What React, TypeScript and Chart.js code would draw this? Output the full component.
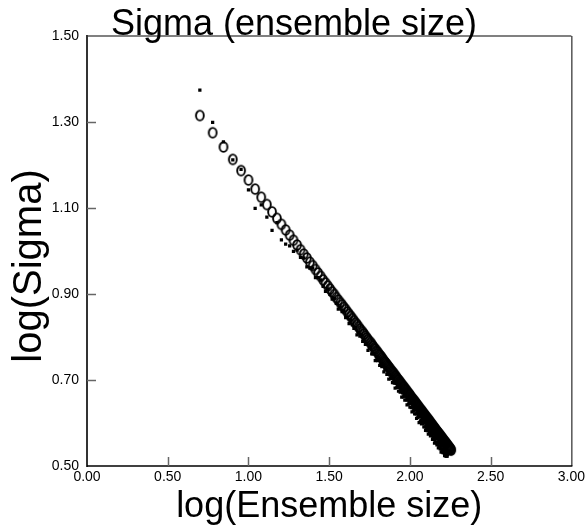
import React, { useEffect, useRef } from "react";
import { Chart, registerables } from "chart.js";

Chart.register(...registerables);

const chartTitle = "Sigma (ensemble size)";
const xAxisTitle = "log(Ensemble size)";
const yAxisTitle = "log(Sigma)";

// log10 positions of axis ticks
const xTickLogs = [0, 0.5, 1, 1.5, 2, 2.5, 3];
const yTicks = [0.5, 0.7, 0.9, 1.1, 1.3, 1.5];

const ensembleSizes = [
  5, 6, 7, 8, 9, 10, 11, 12, 13, 14, 15, 16, 17, 18, 19, 20, 21, 22, 23, 24, 25, 26, 27, 28, 29, 30,
  31, 32, 33, 34, 35, 36, 37, 38, 39, 40, 41, 42, 43, 44, 45, 46, 47, 48, 49, 50, 51, 52, 53, 54, 55,
  56, 57, 58, 59, 60, 61, 62, 63, 64, 65, 66, 67, 68, 69, 70, 71, 72, 73, 74, 75, 76, 77, 78, 79, 80,
  81, 82, 83, 84, 85, 86, 87, 88, 89, 90, 91, 92, 93, 94, 95, 96, 97, 98, 99, 100, 101, 102, 103, 104,
  105, 106, 107, 108, 109, 110, 111, 112, 113, 114, 115, 116, 117, 118, 119, 120, 121, 122, 123, 124,
  125, 126, 127, 128, 129, 130, 131, 132, 133, 134, 135, 136, 137, 138, 139, 140, 141, 142, 143, 144,
  145, 146, 147, 148, 149, 150, 151, 152, 153, 154, 155, 156, 157, 158, 159, 160, 161, 162, 163, 164,
  165, 166, 167, 168, 169, 170, 171, 172, 173, 174, 175, 176, 177, 178, 179, 180,
];

const logSigmaCircles = [
  1.315, 1.275, 1.242, 1.213, 1.187, 1.165, 1.144, 1.125, 1.108, 1.091, 1.076, 1.062, 1.049, 1.037,
  1.025, 1.014, 1.003, 0.993, 0.984, 0.974, 0.966, 0.957, 0.949, 0.941, 0.933, 0.926, 0.919, 0.912,
  0.905, 0.899, 0.892, 0.886, 0.88, 0.875, 0.869, 0.864, 0.858, 0.853, 0.848, 0.843, 0.838, 0.833,
  0.829, 0.824, 0.819, 0.815, 0.811, 0.807, 0.802, 0.798, 0.794, 0.79, 0.787, 0.783, 0.779, 0.775,
  0.772, 0.768, 0.765, 0.761, 0.758, 0.755, 0.752, 0.748, 0.745, 0.742, 0.739, 0.736, 0.733, 0.73,
  0.727, 0.724, 0.721, 0.719, 0.716, 0.713, 0.71, 0.708, 0.705, 0.702, 0.7, 0.697, 0.695, 0.692,
  0.69, 0.687, 0.685, 0.683, 0.68, 0.678, 0.676, 0.673, 0.671, 0.669, 0.667, 0.665, 0.662, 0.66,
  0.658, 0.656, 0.654, 0.652, 0.65, 0.648, 0.646, 0.644, 0.642, 0.64, 0.638, 0.636, 0.634, 0.632,
  0.63, 0.629, 0.627, 0.625, 0.623, 0.621, 0.62, 0.618, 0.616, 0.614, 0.613, 0.611, 0.609, 0.608,
  0.606, 0.604, 0.603, 0.601, 0.599, 0.598, 0.596, 0.595, 0.593, 0.591, 0.59, 0.588, 0.587, 0.585,
  0.584, 0.582, 0.581, 0.579, 0.578, 0.576, 0.575, 0.574, 0.572, 0.571, 0.569, 0.568, 0.567, 0.565,
  0.564, 0.563, 0.561, 0.56, 0.558, 0.557, 0.556, 0.555, 0.553, 0.552, 0.551, 0.549, 0.548, 0.547,
  0.546, 0.544, 0.543, 0.542, 0.541, 0.539, 0.538, 0.537,
];

const logSigmaSquares = [
  1.374, 1.299, 1.254, 1.212, 1.19, 1.142, 1.099, 1.107, 1.079, 1.048, 1.066, 1.026, 1.016, 1.012,
  0.999, 1.002, 0.985, 0.984, 0.963, 0.96, 0.96, 0.938, 0.938, 0.933, 0.918, 0.906, 0.912, 0.899,
  0.888, 0.89, 0.878, 0.865, 0.87, 0.859, 0.861, 0.845, 0.846, 0.831, 0.839, 0.828, 0.82, 0.822,
  0.805, 0.811, 0.802, 0.805, 0.79, 0.793, 0.783, 0.786, 0.769, 0.774, 0.776, 0.761, 0.761, 0.762,
  0.745, 0.753, 0.745, 0.749, 0.734, 0.738, 0.731, 0.734, 0.719, 0.724, 0.727, 0.713, 0.714, 0.702,
  0.712, 0.703, 0.704, 0.694, 0.703, 0.693, 0.681, 0.692, 0.683, 0.684, 0.674, 0.683, 0.672, 0.673,
  0.66, 0.67, 0.661, 0.663, 0.653, 0.663, 0.654, 0.642, 0.653, 0.644, 0.646, 0.637, 0.646, 0.636,
  0.626, 0.637, 0.628, 0.63, 0.621, 0.631, 0.621, 0.611, 0.622, 0.613, 0.615, 0.601, 0.615, 0.604,
  0.606, 0.598, 0.609, 0.599, 0.601, 0.591, 0.6, 0.591, 0.583, 0.593, 0.588, 0.582, 0.59, 0.574,
  0.583, 0.576, 0.582, 0.57, 0.575, 0.571, 0.576, 0.562, 0.568, 0.562, 0.568, 0.553, 0.561, 0.555,
  0.563, 0.554, 0.549, 0.555, 0.551, 0.542, 0.553, 0.545, 0.547, 0.54, 0.546, 0.532, 0.54, 0.535,
  0.54, 0.531, 0.535, 0.531, 0.536, 0.524, 0.529, 0.53, 0.523, 0.529, 0.523, 0.523, 0.527, 0.53,
  0.532, 0.53, 0.533, 0.531, 0.534, 0.531, 0.533, 0.53,
];

const FONT = '"Liberation Sans", Arial, Helvetica, sans-serif';

function makeOMarker(): HTMLCanvasElement {
  const c = document.createElement("canvas");
  c.width = 12;
  c.height = 14;
  const g = c.getContext("2d")!;
  g.strokeStyle = "#000";
  g.lineWidth = 1.9;
  g.beginPath();
  g.ellipse(6, 7, 3.9, 4.9, 0, 0, Math.PI * 2);
  g.stroke();
  return c;
}

const framePlugin = {
  id: "frame",
  afterDatasetsDraw(chart: any) {
    const { ctx, chartArea } = chart;
    const { left, right, top, bottom } = chartArea;
    const xs = chart.scales.x;
    const ys = chart.scales.y;
    ctx.save();
    ctx.strokeStyle = "#808080";
    ctx.lineWidth = 2;
    ctx.beginPath();
    ctx.moveTo(left, top);
    ctx.lineTo(right, top);
    ctx.stroke();
    ctx.strokeStyle = "#000";
    ctx.lineWidth = 1;
    ctx.beginPath();
    ctx.moveTo(right + 0.5, top);
    ctx.lineTo(right + 0.5, bottom);
    ctx.stroke();
    ctx.strokeStyle = "#333";
    ctx.lineWidth = 2;
    ctx.beginPath();
    ctx.moveTo(left, top - 1);
    ctx.lineTo(left, bottom + 1);
    ctx.stroke();
    ctx.strokeStyle = "#000";
    ctx.lineWidth = 1.5;
    ctx.beginPath();
    ctx.moveTo(left, bottom);
    ctx.lineTo(right + 1, bottom);
    ctx.stroke();
    ctx.strokeStyle = "#666";
    ctx.lineWidth = 1.5;
    for (const v of yTicks.slice(1, -1)) {
      const py = Math.round(ys.getPixelForValue(v)) + 0.5;
      ctx.beginPath();
      ctx.moveTo(left, py);
      ctx.lineTo(left + 9, py);
      ctx.stroke();
    }
    for (const lv of xTickLogs.slice(1, -1)) {
      const px = Math.round(xs.getPixelForValue(Math.pow(10, lv))) + 0.5;
      ctx.beginPath();
      ctx.moveTo(px, bottom);
      ctx.lineTo(px, bottom - 9);
      ctx.stroke();
    }
    ctx.restore();
  },
  afterDraw(chart: any) {
    const { ctx, chartArea, width } = chart;
    ctx.save();
    ctx.fillStyle = "#000";
    ctx.textAlign = "center";
    ctx.textBaseline = "alphabetic";
    ctx.font = `36px ${FONT}`;
    ctx.fillText(chartTitle, width / 2, 35);
    ctx.fillText(xAxisTitle, (chartArea.left + chartArea.right) / 2, 517);
    ctx.translate(41, 266);
    ctx.rotate(-Math.PI / 2);
    ctx.font = `40px ${FONT}`;
    ctx.fillText(yAxisTitle, 0, 0);
    ctx.restore();
  },
};

export default function App() {
  const canvasRef = useRef<HTMLCanvasElement | null>(null);

  useEffect(() => {
    const canvas = canvasRef.current;
    if (!canvas) return;
    const oMarker = makeOMarker();
    const circlePts = ensembleSizes.map((n, i) => ({ x: n, y: logSigmaCircles[i] }));
    const squarePts = ensembleSizes.map((n, i) => ({ x: n, y: logSigmaSquares[i] }));

    const chart = new Chart(canvas, {
      type: "scatter",
      data: {
        datasets: [
          {
            label: "squares",
            data: squarePts,
            pointStyle: "rect",
            pointRadius: 2.3,
            backgroundColor: "#000",
            borderColor: "#000",
            borderWidth: 0,
          },
          {
            label: "circles",
            data: circlePts,
            pointStyle: oMarker as any,
            pointRadius: 5,
            backgroundColor: "#000",
            borderColor: "#000",
          },
        ],
      },
      options: {
        responsive: false,
        animation: false,
        events: [],
        layout: { padding: { left: 0, right: 15, top: 36, bottom: 0 } },
        plugins: {
          legend: { display: false },
          tooltip: { enabled: false },
          title: { display: false },
        },
        scales: {
          x: {
            type: "logarithmic",
            min: 1,
            max: 1000,
            grid: { display: false, drawTicks: false },
            border: { display: false },
            afterBuildTicks: (scale: any) => {
              scale.ticks = xTickLogs.map((lv) => ({ value: Math.pow(10, lv) }));
            },
            afterFit: (scale: any) => {
              scale.height = 65;
            },
            ticks: {
              autoSkip: false,
              maxRotation: 0,
              padding: 3,
              color: "#000",
              font: { family: FONT, size: 14 },
              callback: (v: any) => Math.log10(Number(v)).toFixed(2),
            },
          },
          y: {
            type: "linear",
            min: 0.5,
            max: 1.5,
            grid: { display: false, drawTicks: false },
            border: { display: false },
            afterBuildTicks: (scale: any) => {
              scale.ticks = yTicks.map((v) => ({ value: v }));
            },
            afterFit: (scale: any) => {
              scale.width = 87;
            },
            ticks: {
              autoSkip: false,
              padding: 8,
              color: "#000",
              font: { family: FONT, size: 14 },
              callback: (v: any) => Number(v).toFixed(2),
            },
          },
        },
      },
      plugins: [framePlugin],
    });
    return () => chart.destroy();
  }, []);

  return (
    <div style={{ position: "fixed", left: 0, top: 0, width: 588, height: 531, background: "#fff" }}>
      <canvas ref={canvasRef} width={588} height={531} style={{ width: 588, height: 531 }} />
    </div>
  );
}
